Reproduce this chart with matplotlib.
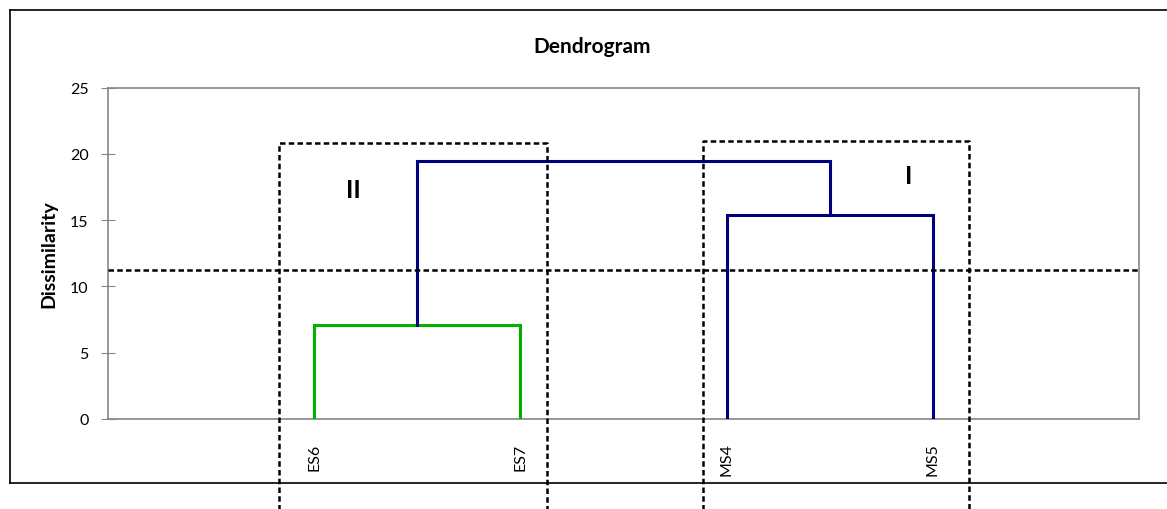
import matplotlib
matplotlib.use("Agg")
import matplotlib.pyplot as plt
from matplotlib.lines import Line2D

plt.rcParams["font.family"] = ["Lato", "DejaVu Sans"]

# ── data ─────────────────────────────────────────────────────────────
leaves = ["ES6", "ES7", "MS4", "MS5"]
leaf_pos = [1, 2, 3, 4]
# (left node, right node, height); nodes 0-3 are leaves, 4+ are merges
links = [(0, 1, 7.1), (2, 3, 15.4), (4, 5, 19.45)]
link_colors = ["#00B200", "#000080", "#000080"]
cut_level = 11.26
box_ranges = [(0.83, 2.127), (2.887, 4.177)]  # x span of cluster boxes
box_tops = [20.8, 21.0]
box_labels = ["II", "I"]
box_label_pos = [(1.19, 17.35), (3.885, 18.4)]
y_ticks = [0, 5, 10, 15, 20, 25]

fig = plt.figure(figsize=(11.67, 5.10), dpi=100)
ax = fig.add_axes([108 / 1167, 1 - 420 / 510, 1031 / 1167, 331.3 / 510])

# ── dendrogram ───────────────────────────────────────────────────────
node_x = list(leaf_pos)
node_y = [0.0] * len(leaves)
for (a, b, h), c in zip(links, link_colors):
    xa, xb = node_x[a], node_x[b]
    ax.plot([xa, xa, xb, xb], [node_y[a], h, h, node_y[b]],
            color=c, linewidth=2.2, solid_joinstyle="miter", zorder=3)
    node_x.append((xa + xb) / 2)
    node_y.append(h)

# ── cut line and cluster boxes ───────────────────────────────────────
dash = dict(color="black", linewidth=1.8, linestyle=(0, (2.2, 1.3)), zorder=4)
ax.axhline(cut_level, **dash)
for (x0, x1), top, lab, (lx, ly) in zip(box_ranges, box_tops, box_labels, box_label_pos):
    ax.plot([x0, x0, x1, x1], [-10, top, top, -10], clip_on=False, **dash)
    ax.text(lx, ly, lab, ha="center", va="center", fontsize=18, fontweight="bold")

ax.set_xlim(0, 5)
ax.set_ylim(0, 25)
ax.set_yticks(y_ticks)
ax.tick_params(axis="y", direction="inout", length=10, color="#868686",
               labelsize=11.5, pad=9)
ax.set_xticks(leaf_pos)
ax.set_xticklabels(leaves, rotation=90, fontsize=11.5)
ax.tick_params(axis="x", length=0, pad=17)
for sp in ax.spines.values():
    sp.set_color("#868686")
    sp.set_linewidth(1.2)

ax.set_ylabel("Dissimilarity", fontsize=14, fontweight="bold", labelpad=9)
fig.text(592 / 1167, 1 - 47 / 510, "Dendrogram", ha="center", va="center",
         fontsize=15, fontweight="bold")

# outer chart frame (runs off the right edge)
fx0, fy0, fy1 = 10 / 1167, 1 - 484 / 510, 1 - 11 / 510
for xs, ys in [([fx0, 1.01], [fy1, fy1]), ([fx0, fx0], [fy0, fy1]),
               ([fx0, 1.01], [fy0, fy0])]:
    fig.add_artist(Line2D(xs, ys, color="black", linewidth=1.2,
                          transform=fig.transFigure))

fig.savefig("out.png", dpi=100)
